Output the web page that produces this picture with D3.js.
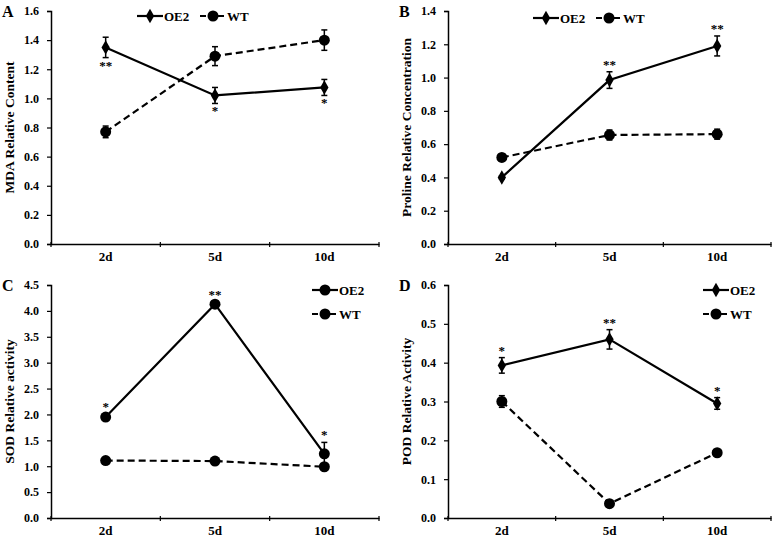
<!DOCTYPE html>
<html><head><meta charset="utf-8">
<script src="https://cdn.jsdelivr.net/npm/d3@7"></script>
<style>
body{margin:0;background:#fff;}
svg{font-family:"Liberation Serif","Times New Roman",serif;font-weight:bold;}
</style></head>
<body><svg id="c" width="778" height="539"></svg>
<script>
const categories = ["2d","5d","10d"];
// Panel A: MDA
const mdaOE2 = [1.35, 1.02, 1.075];
const mdaOE2Err = [0.07, 0.055, 0.055];
const mdaWT = [0.77, 1.29, 1.40];
const mdaWTErr = [0.04, 0.065, 0.07];
const mdaStars = ["**","*","*"];
// Panel B: Proline
const proOE2 = [0.40, 0.985, 1.19];
const proOE2Err = [0.01, 0.05, 0.06];
const proWT = [0.52, 0.655, 0.66];
const proWTErr = [0.02, 0.03, 0.03];
const proStars = ["","**","**"];
// Panel C: SOD
const sodOE2 = [1.95, 4.13, 1.24];
const sodOE2Err = [0.05, 0.05, 0.22];
const sodWT = [1.11, 1.10, 0.99];
const sodWTErr = [0.03, 0.05, 0.03];
const sodStars = ["*","**","*"];
// Panel D: POD
const podOE2 = [0.393, 0.46, 0.295];
const podOE2Err = [0.02, 0.025, 0.015];
const podWT = [0.30, 0.037, 0.168];
const podWTErr = [0.015, 0.003, 0.004];
const podStars = ["*","**","*"];

const yTicksA = [0,0.2,0.4,0.6,0.8,1.0,1.2,1.4,1.6];
const yTicksB = [0,0.2,0.4,0.6,0.8,1.0,1.2,1.4];
const yTicksC = [0,0.5,1.0,1.5,2.0,2.5,3.0,3.5,4.0,4.5];
const yTicksD = [0,0.1,0.2,0.3,0.4,0.5,0.6];

const svg = d3.select("#c");

const panels = [
 {letter:"A", title:"MDA Relative Content", x0:51, x1:379, yTop:11, yBot:244, max:1.6, ticks:yTicksA,
  oe:mdaOE2, oeErr:mdaOE2Err, wt:mdaWT, wtErr:mdaWTErr, stars:mdaStars, starPos:"below", oeShape:"diamond",
  legend:{type:"h", x:137, y:16}},
 {letter:"B", title:"Proline Relative Concentration", x0:448, x1:771, yTop:11, yBot:244, max:1.4, ticks:yTicksB,
  oe:proOE2, oeErr:proOE2Err, wt:proWT, wtErr:proWTErr, stars:proStars, starPos:"above", oeShape:"diamond",
  legend:{type:"h", x:533, y:18}},
 {letter:"C", title:"SOD Relative activity", x0:51, x1:379, yTop:285, yBot:518, max:4.5, ticks:yTicksC,
  oe:sodOE2, oeErr:sodOE2Err, wt:sodWT, wtErr:sodWTErr, stars:sodStars, starPos:"above", oeShape:"circle",
  legend:{type:"v", x:312, y:290}},
 {letter:"D", title:"POD Relative Activity", x0:448, x1:771, yTop:285, yBot:518, max:0.6, ticks:yTicksD,
  oe:podOE2, oeErr:podOE2Err, wt:podWT, wtErr:podWTErr, stars:podStars, starPos:"above", oeShape:"diamond",
  legend:{type:"v", x:703, y:290}}
];

function marker(g, shape, x, y){
  if(shape==="diamond"){
    g.append("path").attr("d", d3.symbol().type(d3.symbolDiamond).size(60)()).attr("transform",`translate(${x},${y})`).attr("fill","#000");
  } else {
    g.append("circle").attr("cx",x).attr("cy",y).attr("r",5.5).attr("fill","#000");
  }
}

panels.forEach(p=>{
  const g = svg.append("g");
  const x = d3.scaleBand().domain(categories).range([p.x0,p.x1]);
  const y = d3.scaleLinear().domain([0,p.max]).range([p.yBot,p.yTop]);
  const cx = d=>x(d)+x.bandwidth()/2;

  const ya = g.append("g").attr("transform",`translate(${p.x0},0)`)
    .call(d3.axisLeft(y).tickValues(p.ticks).tickFormat(d3.format(".1f")).tickSize(4).tickPadding(8));
  ya.select(".domain").attr("stroke","#000").attr("stroke-width",1.5);
  ya.selectAll(".tick line").attr("stroke-width",1.2);
  ya.selectAll("text").attr("font-size",12).attr("font-family","Liberation Serif").attr("font-weight","bold").attr("fill","#000");

  const xa = g.append("g").attr("transform",`translate(0,${p.yBot})`)
    .call(d3.axisBottom(x).tickSize(0).tickPadding(8));
  xa.select(".domain").attr("stroke","#000").attr("stroke-width",1.5);
  xa.selectAll("text").attr("font-size",13).attr("font-family","Liberation Serif").attr("font-weight","bold").attr("fill","#000");
  const bounds = [p.x0, ...categories.slice(1).map(c=>x(c)), p.x1];
  g.selectAll(".bt").data(bounds).enter().append("line")
    .attr("x1",d=>d).attr("x2",d=>d).attr("y1",p.yBot-2).attr("y2",p.yBot+3)
    .attr("stroke","#000").attr("stroke-width",1.2);

  g.append("text").attr("transform",`translate(${p.x0-37},${(p.yTop+p.yBot)/2}) rotate(-90)`)
    .attr("text-anchor","middle").attr("font-size",13.5).attr("fill","#000").text(p.title);
  g.append("text").attr("x",p.x0-49).attr("y",p.yTop+6).attr("font-size",16).attr("fill","#000").text(p.letter);

  const line = d3.line().x((d,i)=>cx(categories[i])).y(d=>y(d));
  g.append("path").datum(p.wt).attr("d",line).attr("fill","none").attr("stroke","#000").attr("stroke-width",2.2).attr("stroke-dasharray","7,4");
  g.append("path").datum(p.oe).attr("d",line).attr("fill","none").attr("stroke","#000").attr("stroke-width",2.2);

  function errs(vals, errv){
    vals.forEach((v,i)=>{
      const xx = cx(categories[i]);
      const e = errv[i];
      g.append("line").attr("x1",xx).attr("x2",xx).attr("y1",y(v+e)).attr("y2",y(v-e)).attr("stroke","#000").attr("stroke-width",1.5);
      [v+e,v-e].forEach(t=>g.append("line").attr("x1",xx-3).attr("x2",xx+3).attr("y1",y(t)).attr("y2",y(t)).attr("stroke","#000").attr("stroke-width",1.5));
    });
  }
  errs(p.wt,p.wtErr); errs(p.oe,p.oeErr);
  p.wt.forEach((v,i)=>marker(g,"circle",cx(categories[i]),y(v)));
  p.oe.forEach((v,i)=>marker(g,p.oeShape,cx(categories[i]),y(v)));

  p.stars.forEach((s,i)=>{
    if(!s) return;
    const v = p.oe[i], e = p.oeErr[i];
    const yy = p.starPos==="below" ? y(v-e)+12 : y(v+e)-3;
    g.append("text").attr("x",cx(categories[i])).attr("y",yy).attr("text-anchor","middle")
      .attr("font-size",13).attr("fill","#000").text(s);
  });

  const L = p.legend;
  function legItem(lx, ly, dashed, shape, label){
    g.append("line").attr("x1",lx).attr("x2",lx+26).attr("y1",ly).attr("y2",ly).attr("stroke","#000").attr("stroke-width",2.2)
      .attr("stroke-dasharray", dashed ? "6,3" : null);
    marker(g, shape, lx+13, ly);
    g.append("text").attr("x",lx+27).attr("y",ly+4.5).attr("font-size",13).attr("fill","#000").text(label);
  }
  if(L.type==="h"){
    legItem(L.x, L.y, false, p.oeShape, "OE2");
    legItem(L.x+63, L.y, true, "circle", "WT");
  } else {
    legItem(L.x, L.y, false, p.oeShape, "OE2");
    legItem(L.x, L.y+24, true, "circle", "WT");
  }
});
</script></body></html>
